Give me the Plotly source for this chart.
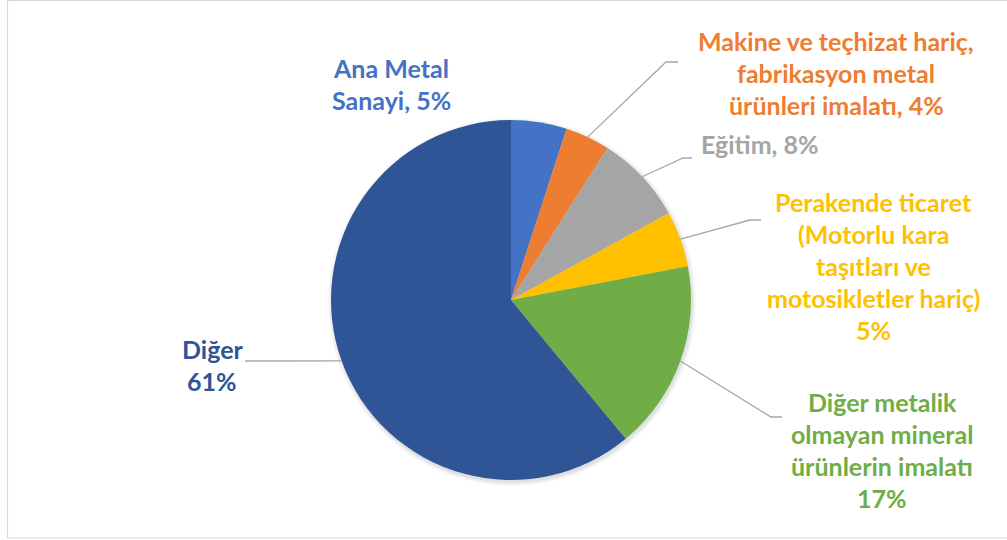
import math
import plotly.graph_objects as go

# ---- data ----
categories = [
    "Ana Metal Sanayi",
    "Makine ve teçhizat hariç, fabrikasyon metal ürünleri imalatı",
    "Eğitim",
    "Perakende ticaret (Motorlu kara taşıtları ve motosikletler hariç)",
    "Diğer metalik olmayan mineral ürünlerin imalatı",
    "Diğer",
]
values = [5, 4, 8, 5, 17, 61]
colors = ["#4472C4", "#ED7D31", "#A5A5A5", "#FFC000", "#70AD47", "#2F5597"]
label_lines = [
    ["Ana Metal", "Sanayi, 5%"],
    ["Makine ve teçhizat hariç,", "fabrikasyon metal", "ürünleri imalatı, 4%"],
    ["Eğitim, 8%"],
    ["Perakende ticaret", "(Motorlu kara", "taşıtları ve", "motosikletler hariç)", "5%"],
    ["Diğer metalik", "olmayan mineral", "ürünlerin imalatı", "17%"],
    ["Diğer", "61%"],
]

# ---- layout geometry (pixels) ----
W, H = 1007, 540
CX, CY, R = 511, 300, 180
label_centers = [(391, 84), (836, 73), (760, 144), (873, 266), (882, 450), (212, 365)]
line_step = 32
elbows = [None, (666, 62), (683, 158), (750, 220), (771, 417), None]
leader_ends = [None, (678, 62), (692, 158), (761, 220), (782, 417), (245, 361)]

FONT = "Lato"
FSIZE = 25
LEADER = "#A6A6A6"


def px(x):
    return x / W


def py(y):
    return 1 - y / H


fig = go.Figure(
    go.Pie(
        values=values,
        labels=categories,
        sort=False,
        direction="clockwise",
        rotation=0,
        textinfo="none",
        hoverinfo="label+percent",
        marker=dict(colors=colors, line=dict(width=0)),
        domain=dict(x=[px(CX - R), px(CX + R)], y=[py(CY + R), py(CY - R)]),
        showlegend=False,
    )
)

shapes = []
# chart area border
shapes.append(dict(type="rect", xref="paper", yref="paper",
                   x0=px(7.5), x1=px(1012), y0=py(538), y1=py(0.5),
                   line=dict(color="#D9D9D9", width=1.2), layer="below"))
# soft shadow behind pie
for i, a in enumerate([0.05, 0.04, 0.03]):
    rr = R + 1 + i * 1.5
    shapes.append(dict(type="circle", xref="paper", yref="paper",
                       x0=px(CX + 1 - rr), x1=px(CX + 1 + rr),
                       y0=py(CY + 2 + rr), y1=py(CY + 2 - rr),
                       fillcolor=f"rgba(0,0,0,{a})", line=dict(width=0), layer="below"))

total = sum(values)
cum = 0
annotations = []
for i, v in enumerate(values):
    mid = (cum + v / 2) / total * 2 * math.pi
    cum += v
    sx = CX + R * math.sin(mid)
    sy = CY - R * math.cos(mid)
    if leader_ends[i] is not None:
        pts = [(sx, sy)]
        if elbows[i] is not None:
            pts.append(elbows[i])
        pts.append(leader_ends[i])
        path = "M " + " L ".join(f"{px(x)},{py(y)}" for x, y in pts)
        shapes.append(dict(type="path", xref="paper", yref="paper", path=path,
                           line=dict(color=LEADER, width=1.3)))
    lx, ly = label_centers[i]
    n = len(label_lines[i])
    for k, t in enumerate(label_lines[i]):
        yy = ly + (k - (n - 1) / 2) * line_step
        annotations.append(dict(
            x=px(lx), y=py(yy), xref="paper", yref="paper", text=t,
            showarrow=False, xanchor="center", yanchor="middle",
            font=dict(family=FONT, size=FSIZE, color=colors[i], weight="bold"),
        ))

fig.update_layout(
    width=W, height=H,
    margin=dict(l=0, r=0, t=0, b=0),
    paper_bgcolor="white",
    plot_bgcolor="white",
    shapes=shapes,
    annotations=annotations,
)

fig.write_html("out.html", config={"displayModeBar": False},
               post_script="document.body.style.margin='0';")
